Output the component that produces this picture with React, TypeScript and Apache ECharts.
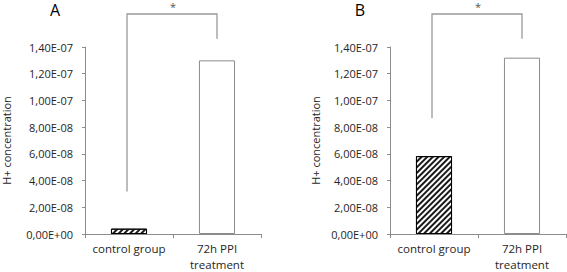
import React, { useEffect, useRef } from "react";
import * as echarts from "echarts";

const categories = ["control group", "72h PPI\ntreatment"];
const valuesA = [4.0e-9, 1.30e-7];
const valuesB = [5.83e-8, 1.32e-7];
const yTickLabels = ["0,00E+00", "2,00E-08", "4,00E-08", "6,00E-08", "8,00E-08", "1,00E-07", "1,20E-07", "1,40E-07"];
const yStep = 2e-8;
const yMax = 1.4e-7;
// significance bracket: [left foot, top, right foot]
const bracketA = [3.18e-8, 1.647e-7, 1.461e-7];
const bracketB = [8.67e-8, 1.647e-7, 1.461e-7];
const panelLetters = ["A", "B"];
const sigMark = "*";

const FONT = "'Open Sans', sans-serif";
const AXIS_COLOR = "#8c8c8c";
const TEXT_COLOR = "#262626";

export default function App() {
  const ref = useRef<HTMLDivElement>(null);
  useEffect(() => {
    if (!ref.current) return;
    const chart = echarts.init(ref.current, undefined, { renderer: "svg" });
    const grids = [
      { left: 85, top: 47, width: 176, height: 187, outerBoundsMode: "none", containLabel: false },
      { left: 390, top: 47, width: 176, height: 187, outerBoundsMode: "none", containLabel: false },
    ];
    const nameGaps = [73, 69];
    const xAxes = grids.map((_, i) => ({
      type: "category" as const,
      gridIndex: i,
      data: categories,
      boundaryGap: true,
      axisLine: { lineStyle: { color: AXIS_COLOR, width: 1 } },
      axisTick: { show: true, length: 4, lineStyle: { color: AXIS_COLOR } },
      axisLabel: { interval: 0, fontFamily: FONT, fontSize: 11.5, color: TEXT_COLOR, margin: 6.5, lineHeight: 15.7 },
    }));
    const yAxes = grids.map((_, i) => ({
      type: "value" as const,
      gridIndex: i,
      min: 0,
      max: yMax,
      interval: yStep,
      name: "H+ concentration",
      nameLocation: "middle" as const,
      nameGap: nameGaps[i],
      nameRotate: 90,
      nameTextStyle: { fontFamily: FONT, fontSize: 11, color: TEXT_COLOR },
      axisLine: { show: true, lineStyle: { color: AXIS_COLOR, width: 1 } },
      axisTick: { show: true, length: 3, lineStyle: { color: AXIS_COLOR } },
      splitLine: { show: false },
      axisLabel: {
        fontFamily: FONT,
        fontSize: 11,
        color: TEXT_COLOR,
        margin: 12,
        formatter: (v: number) => yTickLabels[Math.round(v / yStep)] ?? "",
      },
    }));
    const hatch = {
      color: "#ffffff",
      borderColor: "#000000",
      borderWidth: 1,
      decal: {
        symbol: "rect",
        symbolSize: 1,
        color: "#1a1a1a",
        dashArrayX: [1, 0],
        dashArrayY: [1.2, 1.8],
        rotation: -Math.PI / 4,
      },
    };
    const plain = { color: "#ffffff", borderColor: AXIS_COLOR, borderWidth: 1 };
    const mkSeries = (vals: number[], i: number) => ({
      type: "bar" as const,
      xAxisIndex: i,
      yAxisIndex: i,
      barWidth: "41%",
      data: vals.map((v, k) => ({ value: v, itemStyle: k === 0 ? hatch : plain })),
    });
    chart.setOption({
      animation: false,
      grid: grids,
      xAxis: xAxes,
      yAxis: yAxes,
      series: [mkSeries(valuesA, 0), mkSeries(valuesB, 1)],
    });

    const graphics: any[] = [];
    [bracketA, bracketB].forEach((br, i) => {
      const p0 = chart.convertToPixel({ gridIndex: i }, [0, br[0]]) as number[];
      const p1 = chart.convertToPixel({ gridIndex: i }, [0, br[1]]) as number[];
      const p2 = chart.convertToPixel({ gridIndex: i }, [1, br[1]]) as number[];
      const p3 = chart.convertToPixel({ gridIndex: i }, [1, br[2]]) as number[];
      graphics.push({
        type: "polyline",
        shape: { points: [[p0[0] - 2, p0[1]], [p1[0] - 2, p1[1]], [p2[0], p2[1]], [p3[0], p3[1]]] },
        style: { stroke: "#9a9a9a", lineWidth: 1.3, fill: null },
        silent: true,
      });
      graphics.push({
        type: "text",
        x: (p1[0] + p2[0]) / 2,
        y: p1[1] - 13,
        style: { text: sigMark, fontFamily: FONT, fontSize: 11, lineHeight: 10, fill: "#555", align: "center", verticalAlign: "top" },
      });
      const yTop = chart.convertToPixel({ gridIndex: i }, [0, yMax]) as number[];
      const axisX = grids[i].left;
      graphics.push({
        type: "text",
        x: axisX - 30,
        y: yTop[1] - 45,
        style: { text: panelLetters[i], fontFamily: FONT, fontSize: 16, fill: "#000", align: "center", verticalAlign: "top" },
      });
    });
    chart.setOption({ graphic: graphics });
    return () => chart.dispose();
  }, []);
  return <div ref={ref} style={{ position: "fixed", left: 0, top: 0, width: 567, height: 272, background: "#fff" }} />;
}
